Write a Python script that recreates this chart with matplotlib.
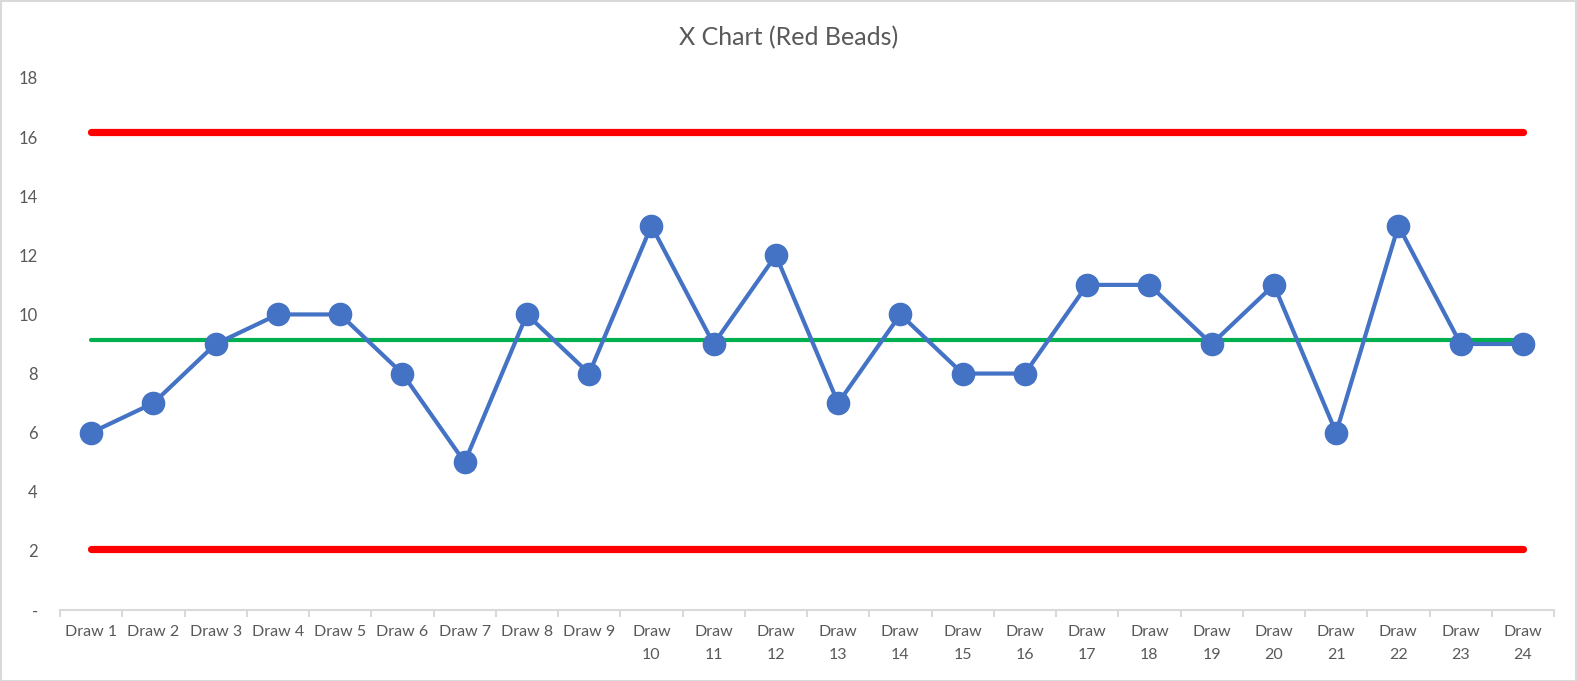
import matplotlib
matplotlib.use("Agg")
import matplotlib.pyplot as plt
from matplotlib.patches import Rectangle

categories = ["Draw 1", "Draw 2", "Draw 3", "Draw 4", "Draw 5", "Draw 6", "Draw 7", "Draw 8",
              "Draw 9", "Draw\n10", "Draw\n11", "Draw\n12", "Draw\n13", "Draw\n14", "Draw\n15",
              "Draw\n16", "Draw\n17", "Draw\n18", "Draw\n19", "Draw\n20", "Draw\n21", "Draw\n22",
              "Draw\n23", "Draw\n24"]
values = [6, 7, 9, 10, 10, 8, 5, 10, 8, 13, 9, 12, 7, 10, 8, 8, 11, 11, 9, 11, 6, 13, 9, 9]
mean_line = 9.125
ucl = 16.18
lcl = 2.07
y_ticks = [0, 2, 4, 6, 8, 10, 12, 14, 16, 18]
y_tick_labels = ["-", "2", "4", "6", "8", "10", "12", "14", "16", "18"]

plt.rcParams['font.family'] = ['Lato', 'DejaVu Sans']
W, H = 1577, 681
fig = plt.figure(figsize=(W / 100, H / 100), dpi=100)
ax = fig.add_axes([60 / W, (H - 610) / H, (1554 - 60) / W, (610 - 78) / H])

x = list(range(len(values)))
n = len(values)
ax.plot([x[0], x[-1]], [ucl, ucl], color="#FF0000", lw=5.2, solid_capstyle="round", zorder=2)
ax.plot([x[0], x[-1]], [lcl, lcl], color="#FF0000", lw=5.2, solid_capstyle="round", zorder=2)
ax.plot([x[0], x[-1]], [mean_line, mean_line], color="#00B050", lw=3.0, solid_capstyle="round", zorder=2)
ax.plot(x, values, color="#4472C4", lw=3.0, marker="o", markersize=16, zorder=3)

ax.set_xlim(-0.5, n - 0.5)
ax.set_ylim(0, 18)
ax.set_yticks(y_ticks)
ax.set_yticklabels(y_tick_labels)
ax.set_xticks(x)
ax.set_xticklabels(categories, linespacing=1.75)
ax.set_xticks([i - 0.5 for i in range(n + 1)], minor=True)

for s in ["top", "right", "left"]:
    ax.spines[s].set_visible(False)
ax.spines["bottom"].set_color("#D9D9D9")
ax.spines["bottom"].set_linewidth(1.5)
ax.tick_params(axis="x", which="major", length=0, pad=11, labelsize=11.5, labelcolor="#595959")
ax.tick_params(axis="x", which="minor", length=5, width=1.5, color="#D9D9D9", direction="out")
ax.tick_params(axis="y", length=0, pad=16, labelsize=12, labelcolor="#595959")
for lab in ax.get_xticklabels():
    lab.set_verticalalignment("top")

fig.text(0.5, (H - 38) / H, "X Chart (Red Beads)", ha="center", va="center",
         fontsize=18, color="#595959")

fig.patches.append(Rectangle((0.5 / W, 0.5 / H), (W - 1.5) / W, (H - 1.5) / H,
                             transform=fig.transFigure, fill=False,
                             edgecolor="#D9D9D9", lw=1.5))

fig.savefig("out.png", dpi=100)
